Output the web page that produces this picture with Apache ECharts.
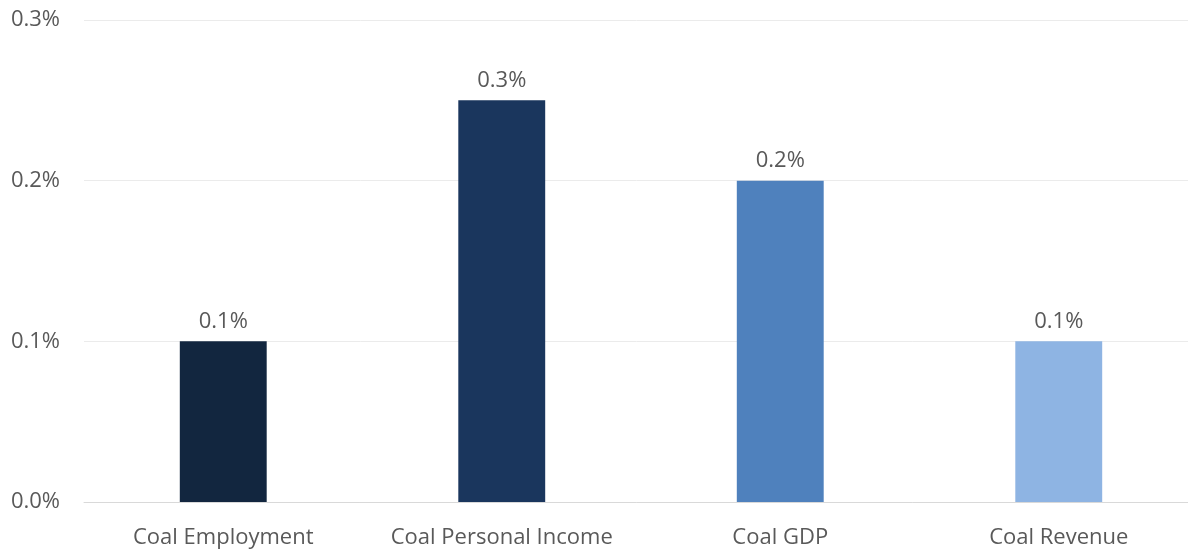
<!DOCTYPE html>
<html>
<head>
<meta charset="utf-8">
<title>Coal share</title>
<script src="https://cdn.jsdelivr.net/npm/echarts@6/dist/echarts.min.js"></script>
<style>
  html, body { margin: 0; padding: 0; background: #ffffff; }
  #chart { width: 1188px; height: 549px; }
</style>
</head>
<body>
<div id="chart"></div>
<script>
// Categories and their shares (in percent)
const categories = ['Coal Employment', 'Coal Personal Income', 'Coal GDP', 'Coal Revenue'];
const shares = [0.1, 0.25, 0.2, 0.1];
const barColors = ['#12263f', '#1a365d', '#4f81bd', '#8eb4e3'];
const yTicks = { min: 0, max: 0.3, interval: 0.1 };

const fontFamily = '"Open Sans", "Liberation Sans", sans-serif';
const textColor = '#595959';

const chart = echarts.init(document.getElementById('chart'), null, { renderer: 'canvas' });

chart.setOption({
  animation: false,
  backgroundColor: '#ffffff',
  // plot area runs slightly past the right edge of the canvas
  grid: {
    left: 84, width: 1114, top: 20, bottom: 47,
    containLabel: false,
    outerBoundsMode: 'none'
  },
  xAxis: {
    type: 'category',
    data: categories,
    axisLine: { show: true, lineStyle: { color: '#d9d9d9', width: 1 } },
    axisTick: { show: false },
    axisLabel: {
      interval: 0,
      hideOverlap: false,
      color: textColor,
      fontFamily: fontFamily,
      fontSize: 22,
      margin: 25
    }
  },
  yAxis: {
    type: 'value',
    min: yTicks.min,
    max: yTicks.max,
    interval: yTicks.interval,
    axisLine: { show: false },
    axisTick: { show: false },
    splitLine: { lineStyle: { color: '#ebebeb', width: 1 } },
    axisLabel: {
      color: textColor,
      fontFamily: fontFamily,
      fontSize: 22,
      margin: 24,
      formatter: v => v.toFixed(1) + '%'
    }
  },
  series: [{
    type: 'bar',
    barWidth: '31.2%',
    data: shares.map((v, i) => ({ value: v, itemStyle: { color: barColors[i] } })),
    label: {
      show: true,
      position: 'top',
      distance: 9,
      color: textColor,
      fontFamily: fontFamily,
      fontSize: 22,
      formatter: p => p.value.toFixed(1) + '%'
    }
  }]
});
</script>
</body>
</html>
